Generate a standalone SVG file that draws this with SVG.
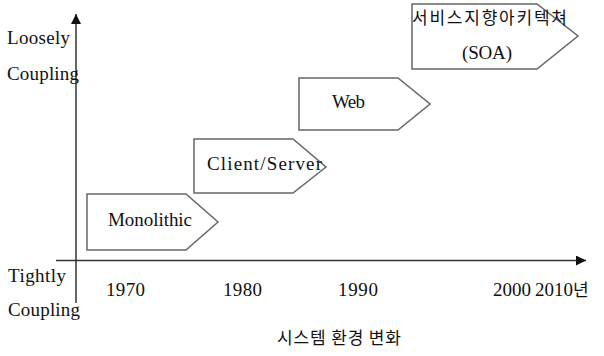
<svg xmlns="http://www.w3.org/2000/svg" width="604" height="356" viewBox="0 0 604 356">
<style>
.bg{fill:#fff}
.axis{stroke:#333;stroke-width:1.5;fill:none}
.box polygon{fill:#fff;stroke:#666;stroke-width:1.5}
text{font-family:"Liberation Serif","Noto Sans CJK KR",serif;font-size:19px;fill:#111}
.ko{font-family:"Noto Sans CJK KR","Liberation Sans",sans-serif;font-size:17px}
</style>
<defs>
<marker id="ah" viewBox="0 0 10 10" refX="10" refY="5" markerWidth="10" markerHeight="10" markerUnits="userSpaceOnUse" orient="auto">
<path d="M0,0 L10,5 L0,10 z" fill="#111"/>
</marker>
</defs>
<rect class="bg" x="0" y="0" width="604" height="356"/>
<g id="connectors">
<line class="axis" x1="76" y1="303" x2="76" y2="14" marker-end="url(#ah)"/>
<line class="axis" x1="56" y1="260.5" x2="586" y2="260.5" marker-end="url(#ah)"/>
</g>
<g id="axis-labels">
<text x="7" y="44" textLength="63">Loosely</text>
<text x="7" y="80" textLength="72">Coupling</text>
<text x="8" y="282" textLength="58">Tightly</text>
<text x="8" y="316" textLength="72">Coupling</text>
<text x="106" y="296" textLength="39">1970</text>
<text x="223" y="296" textLength="39">1980</text>
<text x="338" y="296" textLength="40">1990</text>
<text x="493" y="296" textLength="38">2000</text>
<text x="535" y="296">2010<tspan class="ko" font-size="17">년</tspan></text>
<text class="ko" x="277" y="344" textLength="124">시스템 환경 변화</text>
</g>
<g id="monolithic" class="box">
<polygon points="87,194 186,194 218,222 186,250 87,250"/>
<text x="108" y="226" textLength="84">Monolithic</text>
</g>
<g id="client-server" class="box">
<polygon points="194,139 293,139 326,167 293,193 194,193"/>
<text x="207" y="170" textLength="115">Client/Server</text>
</g>
<g id="web" class="box">
<polygon points="299,78 398,78 430,104 398,130 299,130"/>
<text x="332" y="108" textLength="33">Web</text>
</g>
<g id="soa" class="box">
<polygon points="412,4 537,4 578,36 537,69 412,69"/>
<text class="ko" x="412" y="24" textLength="155">서비스지향아키텍쳐</text>
<text x="462" y="59" textLength="50">(SOA)</text>
</g>
</svg>
